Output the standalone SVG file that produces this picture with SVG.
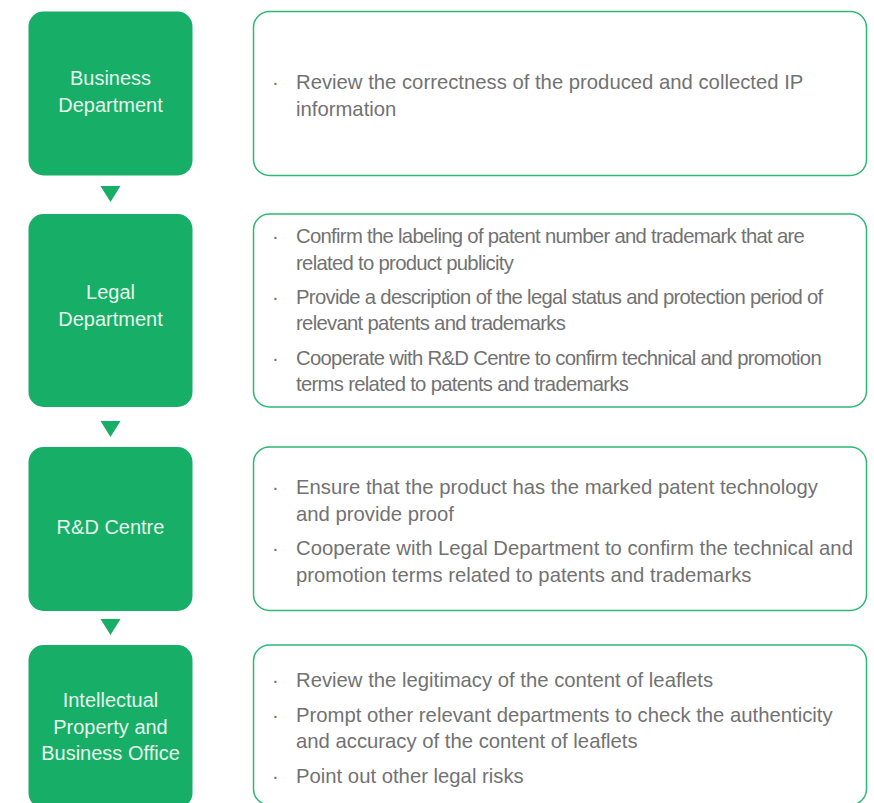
<svg xmlns="http://www.w3.org/2000/svg" width="874" height="803" viewBox="0 0 874 803">
<style>
.dept{fill:#17ae68;}
.card{fill:#ffffff;stroke:#2db873;stroke-width:1.5;}
.lbl{font-family:"Liberation Sans",Arial,sans-serif;font-size:20px;fill:#e6f5ec;text-anchor:middle;}
.txt{font-family:"Liberation Sans",Arial,sans-serif;font-size:20.3px;fill:#727272;}
.tight{letter-spacing:-0.7px;}
.arrow{fill:#17ae68;}
</style>
<rect width="874" height="803" fill="#ffffff"/>
<g id="connectors">
<polygon class="arrow" points="100.5,186 120.5,186 110.5,202"/>
<polygon class="arrow" points="100.5,421 120.5,421 110.5,437"/>
<polygon class="arrow" points="100.5,619 120.5,619 110.5,635"/>
</g>
<g id="business-department">
<rect class="dept" x="28.5" y="11.5" width="164" height="164" rx="15"/>
<text class="lbl" x="110.5" y="85">Business</text>
<text class="lbl" x="110.5" y="111.5">Department</text>
</g>
<g id="business-duties">
<rect class="card" x="253.5" y="11.5" width="613" height="164" rx="16"/>
<text class="txt" x="272" y="89">·</text>
<text class="txt" x="296" y="89">Review the correctness of the produced and collected IP</text>
<text class="txt" x="296" y="116">information</text>
</g>
<g id="legal-department">
<rect class="dept" x="28.5" y="214" width="164" height="193" rx="15"/>
<text class="lbl" x="110.5" y="299">Legal</text>
<text class="lbl" x="110.5" y="325.5">Department</text>
</g>
<g id="legal-duties">
<rect class="card" x="253.5" y="214" width="613" height="193" rx="16"/>
<text class="txt" x="272" y="243">·</text>
<text class="txt tight" x="296" y="243">Confirm the labeling of patent number and trademark that are</text>
<text class="txt tight" x="296" y="269.5">related to product publicity</text>
<text class="txt" x="272" y="304">·</text>
<text class="txt tight" x="296" y="304">Provide a description of the legal status and protection period of</text>
<text class="txt tight" x="296" y="330">relevant patents and trademarks</text>
<text class="txt" x="272" y="364.5">·</text>
<text class="txt tight" x="296" y="364.5">Cooperate with R&amp;D Centre to confirm technical and promotion</text>
<text class="txt tight" x="296" y="390.5">terms related to patents and trademarks</text>
</g>
<g id="rd-centre">
<rect class="dept" x="28.5" y="447" width="164" height="164" rx="15"/>
<text class="lbl" x="110.5" y="534">R&amp;D Centre</text>
</g>
<g id="rd-duties">
<rect class="card" x="253.5" y="447" width="613" height="163.5" rx="16"/>
<text class="txt" x="272" y="494">·</text>
<text class="txt" x="296" y="494">Ensure that the product has the marked patent technology</text>
<text class="txt" x="296" y="521">and provide proof</text>
<text class="txt" x="272" y="555">·</text>
<text class="txt" x="296" y="555">Cooperate with Legal Department to confirm the technical and</text>
<text class="txt" x="296" y="581.5">promotion terms related to patents and trademarks</text>
</g>
<g id="ip-business-office">
<rect class="dept" x="28.5" y="645" width="164" height="163" rx="15"/>
<text class="lbl" x="110.5" y="707">Intellectual</text>
<text class="lbl" x="110.5" y="733.5">Property and</text>
<text class="lbl" x="110.5" y="760">Business Office</text>
</g>
<g id="ip-duties">
<rect class="card" x="253.5" y="645" width="613" height="160" rx="16"/>
<text class="txt" x="272" y="687">·</text>
<text class="txt" x="296" y="687">Review the legitimacy of the content of leaflets</text>
<text class="txt" x="272" y="722">·</text>
<text class="txt" x="296" y="722">Prompt other relevant departments to check the authenticity</text>
<text class="txt" x="296" y="748">and accuracy of the content of leaflets</text>
<text class="txt" x="272" y="783">·</text>
<text class="txt" x="296" y="783">Point out other legal risks</text>
</g>
</svg>
